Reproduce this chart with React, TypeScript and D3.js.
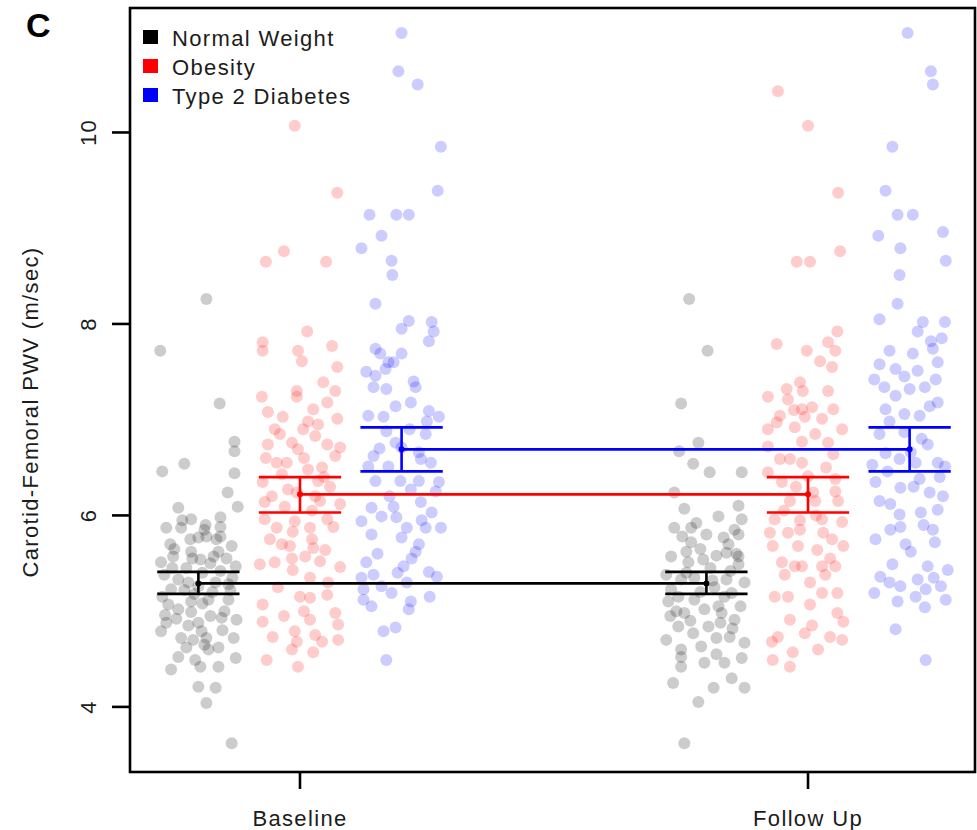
import React from "react";
import * as d3 from "d3";

// Groups, timepoints and axis ticks
const groups = ["Normal Weight", "Obesity", "Type 2 Diabetes"];
const groupColors = ["#000000", "#FF0000", "#0000FF"];
const timepoints = ["Baseline", "Follow Up"];
const yTicks = [4, 6, 8, 10];

// Group summaries (mean with standard-error bounds), same at both visits
const meanBaseline = [5.29, 6.22, 6.69];
const lowerBaseline = [5.18, 6.03, 6.46];
const upperBaseline = [5.41, 6.4, 6.92];
const meanFollowUp = [5.29, 6.22, 6.69];
const lowerFollowUp = [5.18, 6.03, 6.46];
const upperFollowUp = [5.41, 6.4, 6.92];

// Individual subjects: [jitter (-1..1), PWV m/sec]
const normalBaseline: [number, number][] = [
  [0.2, 8.26], [-0.95, 7.72], [0.53, 7.17], [0.9, 6.77], [0.9, 6.67], [-0.35, 6.54], [-0.9, 6.46], [0.9, 6.44],
  [0.73, 6.24], [0.98, 6.09], [-0.5, 6.08], [0.55, 5.98], [-0.18, 5.96], [-0.8, 5.87], [-0.43, 5.87], [0.18, 5.9],
  [0.55, 5.78], [0.83, 5.68], [0.2, 5.78], [0, 5.77], [-0.93, 5.51], [-0.63, 5.57], [-0.18, 5.62], [0.05, 5.54],
  [0.5, 5.62], [0.38, 5.57], [0.93, 5.47], [-0.5, 5.33], [-0.25, 5.3], [0.43, 5.3], [0.75, 5.28], [-0.68, 5.23],
  [0, 5.26], [0.25, 5.12], [0.75, 5.12], [-0.18, 5.1], [-0.75, 5.07], [-0.83, 4.96], [-0.18, 4.99], [0.58, 4.93],
  [0.95, 4.91], [0, 4.88], [-0.8, 4.88], [-0.93, 4.79], [0.08, 4.79], [-0.43, 4.72], [-0.13, 4.7], [0.2, 4.72],
  [0.88, 4.72], [0.5, 4.62], [0.25, 4.6], [-0.5, 4.52], [-0.08, 4.49], [0.93, 4.51], [-0.68, 4.39], [0.05, 4.42],
  [0.5, 4.42], [0, 4.21], [0.43, 4.2], [0.2, 4.04], [0.83, 3.62],
  [-0.6, 5.65], [0.7, 5.55], [-0.3, 5.45], [0.1, 5.4], [-0.85, 5.38], [0.55, 5.42], [-0.1, 5.18], [0.35, 5.2],
  [-0.5, 5.02], [0.65, 5.0], [-0.25, 4.85], [0.3, 4.95], [-0.7, 5.7], [0.15, 5.85], [-0.4, 5.95], [0.85, 5.35],
  [-0.15, 5.55], [0.45, 5.75], [-0.9, 5.15], [0.6, 4.8],
  [-0.2, 5.75], [0.55, 5.88], [-0.65, 5.45], [0.3, 5.5], [0.1, 5.08], [-0.35, 5.22], [0.8, 5.22], [-0.55, 4.92],
  [0.15, 4.65], [-0.3, 4.62],
];

const normalFollowUp: [number, number][] = [
  [-0.43, 8.26], [0.03, 7.72], [-0.63, 7.17], [-0.2, 6.76], [-0.68, 6.67], [-0.33, 6.54], [0.08, 6.45], [0.88, 6.45],
  [-0.8, 6.24], [-0.55, 6.07], [0.8, 6.1], [0.3, 5.99], [-0.8, 5.87], [-0.38, 5.87], [0.88, 5.96], [0.8, 5.8],
  [0, 5.8], [-0.38, 5.72], [0.43, 5.77], [-0.88, 5.57], [-0.45, 5.51], [-0.08, 5.54], [0.5, 5.61], [0.8, 5.57],
  [0.8, 5.49], [-1.0, 5.38], [-0.63, 5.33], [0.95, 5.3], [0.5, 5.33], [-0.88, 5.23], [-0.95, 5.1], [-0.3, 5.12],
  [0.63, 5.19], [0.3, 5.05], [-0.55, 4.98], [0.38, 4.98], [0.7, 4.91], [-0.7, 4.84], [0.05, 4.84], [-0.33, 4.77],
  [-1.0, 4.7], [0.25, 4.72], [0.58, 4.73], [-0.63, 4.6], [-0.13, 4.63], [0.95, 4.67], [-0.63, 4.52], [-0.05, 4.46],
  [0.45, 4.46], [0.88, 4.51], [-0.63, 4.42], [-0.83, 4.25], [0.63, 4.3], [0.18, 4.2], [0.95, 4.2], [-0.2, 4.05],
  [-0.55, 3.62],
  [-0.15, 5.65], [0.6, 5.42], [-0.5, 5.4], [0.2, 5.25], [-0.75, 5.0], [0.1, 5.45], [0.45, 5.15], [-0.3, 5.35],
  [0.7, 5.85], [-0.6, 5.78], [0.25, 5.58], [-0.05, 5.02], [0.85, 5.05], [-0.9, 4.95], [0.35, 4.88],
  [0.55, 5.7], [-0.25, 5.92], [0.15, 5.32], [-0.7, 5.15], [0.65, 4.82], [-0.4, 4.9], [0.25, 4.55], [-0.15, 5.2],
  [0.75, 5.6], [-0.5, 5.62],
];

const obesityBaseline: [number, number][] = [
  [-0.13, 10.07], [0.93, 9.37], [-0.85, 8.65], [-0.4, 8.76], [0.65, 8.65], [0.18, 7.92], [-0.93, 7.81], [-0.93, 7.72],
  [0.8, 7.77], [-0.05, 7.72], [0.05, 7.61], [0.93, 7.55], [-0.95, 7.24], [-0.08, 7.3], [-0.08, 7.24], [0.58, 7.39],
  [0.88, 7.3], [0.68, 7.18], [-0.8, 7.08], [-0.43, 7.03], [0.33, 7.11], [0.2, 6.98], [0.93, 7.01], [-0.63, 6.9],
  [0.08, 6.9], [0.45, 6.95], [0.38, 6.83], [-0.8, 6.74], [-0.2, 6.76], [-0.05, 6.69], [0.68, 6.74], [1.0, 6.71],
  [0.88, 6.62], [-0.58, 6.55], [-0.33, 6.55], [0.2, 6.48], [0.55, 6.5], [-0.93, 6.35], [-0.45, 6.43], [0.45, 6.36],
  [-0.3, 6.27], [0.75, 6.3], [-0.08, 6.24], [0.38, 6.2], [-0.88, 6.14], [-0.38, 6.09], [0.5, 6.15], [1.0, 6.12],
  [-0.88, 5.96], [-0.13, 5.94], [0.68, 5.96], [-0.58, 5.87], [0.25, 5.87], [-0.18, 5.83], [0.83, 5.88], [-0.75, 5.75],
  [-0.45, 5.7], [0.3, 5.75], [0.33, 5.66], [0.63, 5.64], [-0.25, 5.68], [-1.0, 5.49], [-0.63, 5.51], [-0.18, 5.43],
  [0.13, 5.57], [1.0, 5.46], [0.25, 5.35], [0, 5.15], [0.68, 5.17], [0.25, 5.14], [-0.93, 5.07], [-0.93, 4.89],
  [0.25, 4.91], [0.88, 4.98], [0.95, 4.86], [-0.68, 4.73], [-0.13, 4.79], [-0.08, 4.68], [0.38, 4.75], [0.55, 4.68],
  [0.95, 4.7], [-0.2, 4.6], [0.33, 4.57], [-0.83, 4.49], [-0.05, 4.42],
  [-0.5, 6.85], [0.1, 6.6], [0.6, 6.4], [-0.7, 6.2], [0.3, 6.05], [-0.2, 5.55], [0.7, 5.3], [-0.55, 5.25],
  [0.1, 5.0], [-0.4, 4.95], [0.5, 5.52], [-0.85, 6.6],
];

const obesityFollowUp: [number, number][] = [
  [-0.75, 10.43], [0, 10.07], [0.75, 9.37], [-0.28, 8.65], [0.05, 8.65], [0.8, 8.76], [0.73, 7.92], [0.5, 7.81],
  [-0.78, 7.79], [-0.03, 7.72], [0.68, 7.72], [0.3, 7.61], [0.6, 7.55], [-1.0, 7.24], [-0.53, 7.32], [-0.2, 7.39],
  [-0.13, 7.3], [-0.5, 7.21], [-0.7, 7.04], [-0.15, 7.11], [0.1, 7.13], [-0.08, 7.03], [0.35, 7.01], [0.63, 7.11],
  [-1.0, 6.9], [-0.78, 6.97], [-0.33, 6.92], [0.85, 6.9], [0.18, 6.85], [0.5, 6.76], [-1.0, 6.72], [-0.15, 6.77],
  [-0.7, 6.59], [-0.45, 6.59], [-0.15, 6.55], [0.63, 6.64], [-1.0, 6.45], [-0.65, 6.35], [0, 6.41], [0.68, 6.38],
  [0.13, 6.24], [-0.45, 6.15], [0.68, 6.25], [0.18, 6.15], [0.75, 6.15], [-0.83, 5.96], [-0.2, 5.85], [0.35, 5.96],
  [0.85, 5.93], [-0.95, 5.82], [-0.5, 5.82], [-0.25, 5.68], [0.38, 5.82], [0.6, 5.75], [-0.88, 5.68], [0.23, 5.64],
  [0.88, 5.68], [-0.65, 5.51], [-0.33, 5.47], [-0.15, 5.47], [0.35, 5.47], [0.43, 5.38], [0.68, 5.47], [-0.58, 5.38],
  [-0.83, 5.15], [-0.5, 5.15], [0.05, 5.07], [0.35, 5.19], [0.73, 5.19], [-0.45, 4.91], [0.73, 4.98], [0.88, 4.89],
  [-0.75, 4.73], [-0.08, 4.77], [0.55, 4.73], [-0.9, 4.68], [0.85, 4.7], [-0.88, 4.49], [-0.38, 4.57], [0.25, 4.6],
  [-0.45, 4.42],
  [0.45, 6.5], [-0.3, 6.3], [0.2, 6.0], [-0.6, 6.05], [0.55, 5.55], [0.05, 5.3], [-0.2, 5.95], [0.5, 7.3],
  [-0.35, 7.1], [0.1, 4.85],
];

const diabetesBaseline: [number, number][] = [
  [0, 11.04], [-0.08, 10.64], [0.4, 10.5], [0.98, 9.85], [0.9, 9.39], [-0.8, 9.14], [0.18, 9.14], [-0.13, 9.14],
  [-1.0, 8.79], [-0.5, 8.92], [-0.25, 8.66], [-0.23, 8.51], [-0.65, 8.21], [0.18, 8.03], [0.75, 8.02], [0, 7.95],
  [0.68, 7.82], [0.8, 7.92], [-0.65, 7.74], [-0.53, 7.69], [0, 7.69], [-0.33, 7.6], [-0.88, 7.5], [-0.65, 7.46],
  [-0.4, 7.53], [-0.2, 7.6], [-0.7, 7.34], [-0.38, 7.32], [0.3, 7.4], [0.35, 7.34], [-0.15, 7.14], [0.23, 7.18],
  [-0.83, 7.04], [-0.45, 7.03], [0.68, 7.09], [0.93, 7.03], [0.63, 6.98], [-0.38, 6.88], [0.6, 6.85], [-0.15, 6.76],
  [0.43, 6.66], [-0.7, 6.62], [0.48, 6.59], [0, 6.71], [-0.83, 6.51], [-0.33, 6.51], [0.73, 6.55], [-0.65, 6.36],
  [-0.03, 6.36], [0.43, 6.36], [0.93, 6.35], [0.23, 6.27], [0.48, 6.14], [-0.75, 6.08], [-0.2, 6.09], [-1.0, 5.94],
  [-0.5, 5.99], [-0.13, 5.98], [0.75, 6.03], [0.13, 5.87], [0.6, 5.87], [0.98, 5.87], [-0.75, 5.8], [0, 5.77],
  [0.43, 5.7], [0.35, 5.62], [-0.88, 5.51], [0.05, 5.47], [0.68, 5.41], [0.88, 5.36], [-1.0, 5.35], [-0.7, 5.38],
  [-0.95, 5.23], [-0.5, 5.26], [0.13, 5.3], [-0.25, 5.19], [-0.95, 5.12], [0.23, 5.1], [0.18, 5.02], [-0.45, 4.79],
  [-0.15, 4.83], [-0.38, 4.49],
  [0.2, 6.9], [-0.55, 6.7], [0.85, 6.25], [-0.3, 6.2], [0.5, 5.95], [-0.6, 5.6], [0.25, 5.55], [-0.1, 5.4],
  [0.7, 5.15], [-0.75, 5.05],
];

const diabetesFollowUp: [number, number][] = [
  [-0.05, 11.04], [0.53, 10.64], [0.58, 10.5], [-0.43, 9.85], [-0.6, 9.39], [0.08, 9.14], [-0.3, 9.14], [0.83, 8.96],
  [-0.78, 8.92], [-0.23, 8.79], [0.9, 8.66], [-0.25, 8.51], [-0.3, 8.21], [-0.75, 8.05], [0.33, 8.02], [0.88, 8.02],
  [0.2, 7.92], [0.53, 7.82], [0.58, 7.74], [-0.5, 7.72], [0.08, 7.69], [0.7, 7.6], [-0.75, 7.58], [-0.35, 7.53],
  [0.2, 7.51], [-0.88, 7.42], [-0.13, 7.45], [0.65, 7.42], [-0.63, 7.34], [0, 7.32], [0.38, 7.34], [0.7, 7.18],
  [0.5, 7.14], [-0.6, 7.11], [-0.13, 7.06], [0.25, 7.04], [-0.5, 6.98], [-0.75, 6.85], [-0.13, 6.87], [0.45, 6.74],
  [0.03, 6.66], [-0.25, 6.59], [-0.93, 6.53], [0.7, 6.55], [0.88, 6.51], [-0.55, 6.46], [0.15, 6.55], [-0.85, 6.35],
  [-0.23, 6.29], [0.25, 6.38], [0.75, 6.4], [0.5, 6.24], [0.83, 6.2], [-0.75, 6.15], [-0.48, 6.12], [0.28, 6.03],
  [0.7, 6.06], [-0.25, 6.01], [-0.23, 5.88], [0.58, 5.85], [-0.48, 5.85], [-0.85, 5.75], [0.63, 5.72], [0.03, 5.62],
  [-0.43, 5.49], [0.45, 5.47], [0.95, 5.43], [-0.73, 5.36], [0.2, 5.33], [-0.23, 5.26], [0.78, 5.26], [-0.88, 5.19],
  [0.4, 5.23], [0.9, 5.12], [-0.3, 5.1], [0.38, 5.04], [-0.35, 4.81], [0.4, 4.49],
  [0.1, 6.3], [-0.6, 6.65], [0.35, 5.9], [-0.1, 5.7], [0.6, 5.35], [-0.5, 5.3], [0.15, 5.15], [0.3, 6.8],
  [-0.35, 7.25], [0.8, 7.85],
];

const subjects = [
  [normalBaseline, obesityBaseline, diabetesBaseline],
  [normalFollowUp, obesityFollowUp, diabetesFollowUp],
];
const means = [meanBaseline, meanFollowUp];
const lowers = [lowerBaseline, lowerFollowUp];
const uppers = [upperBaseline, upperFollowUp];

const W = 977;
const H = 830;
const P = { left: 130, right: 975, top: 8, bottom: 772 };
const FONT = "'Liberation Sans', Arial, Helvetica, sans-serif";
const TEXT = "#1c1c1c";
const SPACING = 1.35;

export default function App() {
  // timepoint positions: 1 = Baseline, 2 = Follow Up
  const x = d3.scaleLinear().domain([0.6654, 2.3287]).range([P.left, P.right]);
  const y = d3.scaleLinear().domain([3.32, 11.3]).range([P.bottom, P.top]);
  const groupOffset = [-0.2, 0, 0.2];
  const jitterWidth = 0.079;
  const capHalf = 0.081;
  const center = (t: number, g: number) => x(t + 1 + groupOffset[g]);

  return (
    <svg width={W} height={H} style={{ position: "absolute", left: 0, top: 0, background: "#fff" }}>
      {/* jittered subject points */}
      {subjects.map((tp, t) =>
        tp.map((pts, g) =>
          pts.map(([j, v], i) => (
            <circle
              key={`p-${t}-${g}-${i}`}
              cx={x(t + 1 + groupOffset[g] + j * jitterWidth)}
              cy={y(v)}
              r={6}
              fill={groupColors[g]}
              fillOpacity={0.2}
            />
          ))
        )
      )}

      {/* error bars, mean markers and mean connectors */}
      {groups.map((_, g) => (
        <g key={`s-${g}`} stroke={groupColors[g]} strokeWidth={2.6} fill="none">
          {timepoints.map((_, t) => {
            const cx = center(t, g);
            const x0 = x(t + 1 + groupOffset[g] - capHalf);
            const x1 = x(t + 1 + groupOffset[g] + capHalf);
            return (
              <g key={`e-${t}`}>
                <line x1={cx} x2={cx} y1={y(lowers[t][g])} y2={y(uppers[t][g])} />
                <line x1={x0} x2={x1} y1={y(lowers[t][g])} y2={y(lowers[t][g])} />
                <line x1={x0} x2={x1} y1={y(uppers[t][g])} y2={y(uppers[t][g])} />
                <circle cx={cx} cy={y(means[t][g])} r={3} fill={groupColors[g]} stroke="none" />
              </g>
            );
          })}
          <line
            x1={center(0, g)}
            x2={center(1, g)}
            y1={y(means[0][g])}
            y2={y(means[1][g])}
          />
        </g>
      ))}

      {/* plot frame */}
      <rect
        x={P.left}
        y={P.top}
        width={P.right - P.left}
        height={P.bottom - P.top}
        fill="none"
        stroke="#000"
        strokeWidth={2.6}
      />

      {/* y axis */}
      {yTicks.map((t) => (
        <g key={`yt-${t}`}>
          <line x1={P.left - 18} x2={P.left} y1={y(t)} y2={y(t)} stroke="#000" strokeWidth={2.6} />
          <text
            transform={`translate(96,${y(t)}) rotate(-90)`}
            textAnchor="middle"
            fontFamily={FONT}
            fontSize={22}
            letterSpacing={SPACING}
            fill={TEXT}
          >
            {t}
          </text>
        </g>
      ))}
      <text
        transform={`translate(38,412) rotate(-90)`}
        textAnchor="middle"
        fontFamily={FONT}
        fontSize={22}
        letterSpacing={SPACING}
        fill={TEXT}
      >
        Carotid-Femoral PWV (m/sec)
      </text>

      {/* x axis */}
      {timepoints.map((name, t) => (
        <g key={`xt-${t}`}>
          <line x1={x(t + 1)} x2={x(t + 1)} y1={P.bottom} y2={P.bottom + 17} stroke="#000" strokeWidth={2.6} />
          <text
            x={x(t + 1)}
            y={826}
            textAnchor="middle"
            fontFamily={FONT}
            fontSize={22}
            letterSpacing={SPACING}
            fill={TEXT}
          >
            {name}
          </text>
        </g>
      ))}

      {/* legend */}
      {groups.map((name, g) => (
        <g key={`lg-${g}`} transform={`translate(0,${g * 29})`}>
          <rect x={143} y={30} width={15} height={14} fill={groupColors[g]} />
          <text x={172} y={46} fontFamily={FONT} fontSize={22} letterSpacing={SPACING} fill={TEXT}>
            {name}
          </text>
        </g>
      ))}

      {/* panel letter */}
      <text x={26} y={37} fontFamily={FONT} fontSize={34} fontWeight="bold" fill="#000">
        C
      </text>
    </svg>
  );
}
